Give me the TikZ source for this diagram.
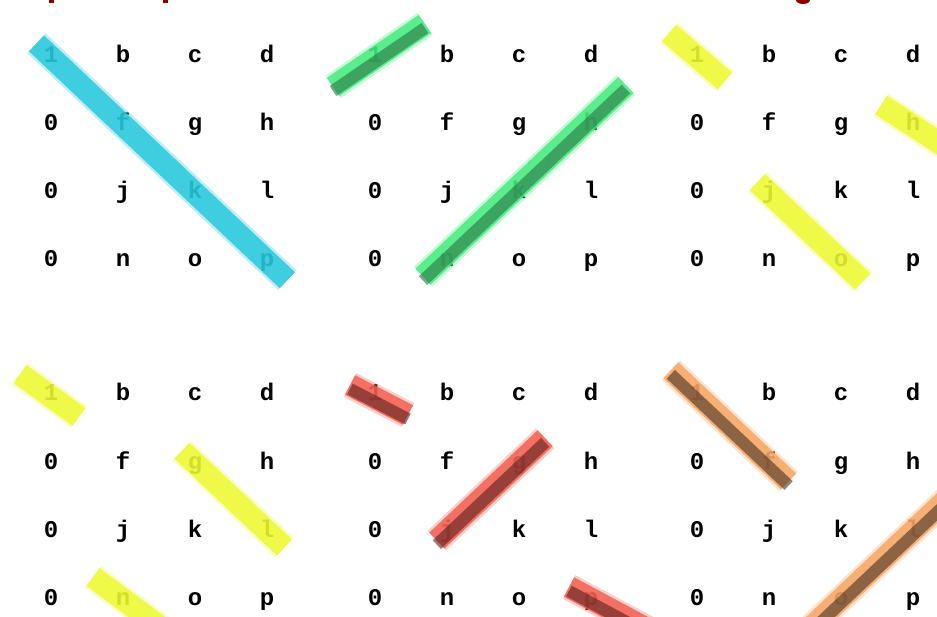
\documentclass[tikz,border=0pt]{standalone}
\usepackage{fontspec}
\newfontfamily\gridfont{Liberation Mono}
\usepackage{tikz}
\usetikzlibrary{calc}

\definecolor{barcyan}{RGB}{40,200,220}
\definecolor{barlime}{RGB}{70,235,125}
\definecolor{barpine}{RGB}{40,115,70}
\definecolor{baryellow}{RGB}{236,248,50}
\definecolor{barred}{RGB}{242,95,80}
\definecolor{redshade}{RGB}{90,30,30}
\definecolor{barorange}{RGB}{246,165,100}
\definecolor{brownshade}{RGB}{70,50,35}
\definecolor{titlered}{RGB}{140,0,0}

\tikzset{
  cell/.style={inner sep=0pt, text height=12pt, text depth=0pt,
    font=\gridfont\bfseries\fontsize{24}{24}\selectfont},
  hilite/.style={draw=#1, line width=22pt, opacity=0.85,
    preaction={draw=#1, line width=27pt, opacity=0.3}},
  shaded/.style={postaction={draw=#1, line width=12pt, opacity=0.6,
    transform canvas={yshift=-4pt}}},
  cyanbar/.style={hilite=barcyan},
  yellowbar/.style={hilite=baryellow},
  greenbar/.style={hilite=barlime, shaded=barpine},
  redbar/.style={hilite=barred, shaded=redshade},
  orangebar/.style={hilite=barorange, shaded=brownshade}
}

\begin{document}
\begin{tikzpicture}[x=1pt,y=-1pt]
  \useasboundingbox (0,0) rectangle (937,617);
  \clip (0,0) rectangle (937,617);
  \fill[titlered] (49,0) rectangle (54,3);
  \fill[titlered] (163,0) rectangle (168,3);
  \fill[titlered] (803,0) ellipse (7 and 4);

  \foreach \g/\x/\y in {A/51/57, B/375/57, C/697/57, D/51/395, E/375/395, F/697/395}{
    \foreach \t [count=\i from 0] in {1,b,c,d,0,f,g,h,0,j,k,l,0,n,o,p}{
      \pgfmathtruncatemacro\r{div(\i,4)+1}
      \pgfmathtruncatemacro\c{mod(\i,4)+1}
      \node[cell] (\g\r\c) at (\x+72*\c-72, \y+68*\r-68) {\t};
    }
  }

  \draw[cyanbar] ($(A11)!-20pt!(A44)$) -- ($(A44)!-28pt!(A11)$);

  \draw[greenbar] ($(B11)+(-42,30)$) -- ($(B11)+(50,-33)$);
  \draw[greenbar] ($(B42)!-33pt!(B24)+(0,-7)$) -- ($(B24)!-48pt!(B42)+(0,-7)$);

  \draw[yellowbar] ($(C11)+(-28,-24)$) -- ($(C11)+(28,24)$);
  \draw[yellowbar] ($(C24)+(-32,-20)$) -- ($(C24)+(45,30)$);
  \draw[yellowbar] ($(C32)!-16pt!(C43)$) -- ($(C43)!-30pt!(C32)$);

  \draw[yellowbar] ($(D11)+(-31,-21)$) -- ($(D11)+(28,22)$);
  \draw[yellowbar] ($(D23)!-18pt!(D34)$) -- ($(D34)!-24pt!(D23)$);
  \draw[yellowbar] ($(D42)+(-30,-22)$) -- ($(D42)+(60,45)$);

  \draw[redbar] ($(E11)+(-25,-10)$) -- ($(E11)+(33,20)$);
  \draw[redbar] ($(E32)!-14pt!(E23)$) -- ($(E23)!-36pt!(E32)$);
  \draw[redbar] ($(E44)+(-22,-12)$) -- ($(E44)+(60,32)$);

  \draw[orangebar] ($(F11)!-36pt!(F22)$) -- ($(F22)!-27pt!(F11)$);
  \draw[orangebar] ($(F43)!-40pt!(F34)$) -- ($(F34)!-60pt!(F43)$);
\end{tikzpicture}
\end{document}
